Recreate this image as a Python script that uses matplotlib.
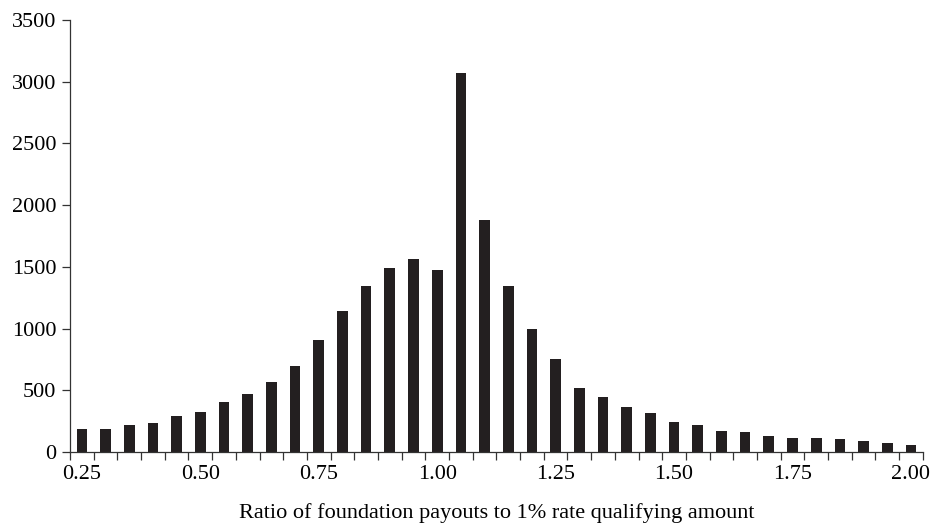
import numpy as np
import matplotlib.pyplot as plt

# payout ratio bins (0.25 .. 2.00 in 0.05 steps) and number of foundations
ratios = ['0.25', '0.30', '0.35', '0.40', '0.45', '0.50', '0.55', '0.60', '0.65', '0.70',
          '0.75', '0.80', '0.85', '0.90', '0.95', '1.00', '1.05', '1.10', '1.15', '1.20',
          '1.25', '1.30', '1.35', '1.40', '1.45', '1.50', '1.55', '1.60', '1.65', '1.70',
          '1.75', '1.80', '1.85', '1.90', '1.95', '2.00']
counts = [190, 190, 219, 235, 292, 322, 409, 468, 568, 697,
          911, 1143, 1346, 1492, 1562, 1479, 3068, 1884, 1346, 1000,
          757, 522, 449, 362, 319, 246, 219, 173, 160, 130,
          119, 119, 103, 87, 76, 60]
shown_labels = ['0.25', '0.50', '0.75', '1.00', '1.25', '1.50', '1.75', '2.00']

plt.rcParams['font.family'] = ['Liberation Serif', 'DejaVu Serif']

fig = plt.figure(figsize=(9.34, 5.24), dpi=100)
ax = fig.add_axes([0.075, 0.137, 0.913, 0.825])

x = np.arange(len(ratios))
ax.bar(x, counts, width=0.45, color='#231f20')

ax.set_xlim(-0.5, len(ratios) - 0.5)
ax.set_ylim(0, 3500)
ax.set_yticks(np.arange(0, 3501, 500))

# labels under the bars, tick marks between the bars
major = [ratios.index(s) for s in shown_labels]
ax.set_xticks(major)
ax.set_xticklabels(shown_labels)
ax.set_xticks(np.arange(-0.5, len(ratios)), minor=True)
ax.tick_params(axis='x', which='major', length=0, pad=9, labelsize=16)
ax.tick_params(axis='x', which='minor', length=6, width=0.9, direction='out', color='#333333')
ax.tick_params(axis='y', length=6, width=0.9, pad=4, labelsize=16, color='#333333')

for s in ['top', 'right']:
    ax.spines[s].set_visible(False)
for s in ['left', 'bottom']:
    ax.spines[s].set_color('#333333')
    ax.spines[s].set_linewidth(0.9)

ax.set_xlabel('Ratio of foundation payouts to 1% rate qualifying amount', fontsize=16, labelpad=14)

fig.savefig('out.png', dpi=100)
